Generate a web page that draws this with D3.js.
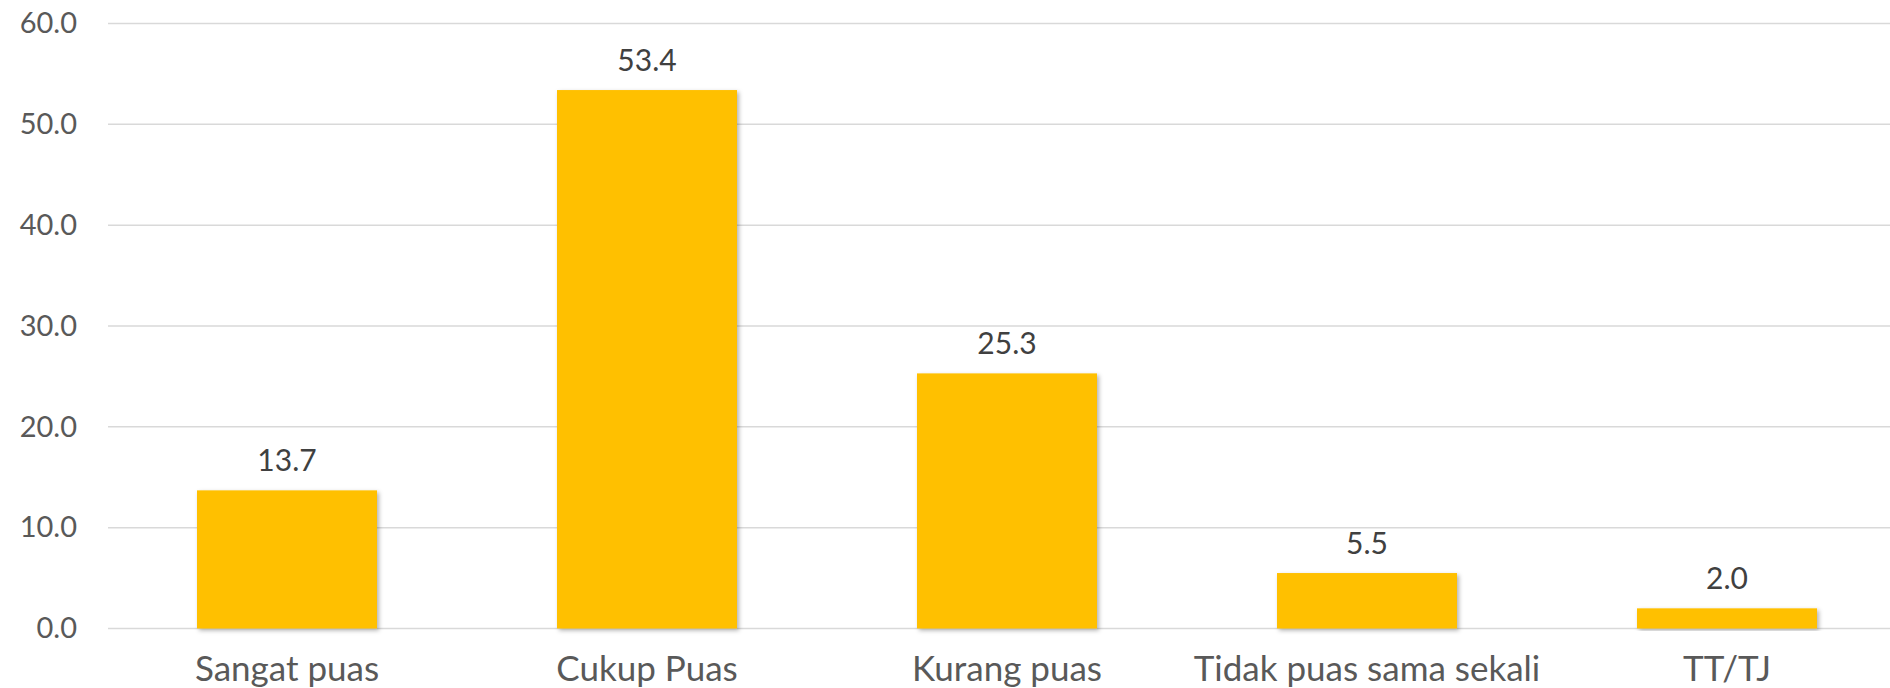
<!DOCTYPE html>
<html><head><meta charset="utf-8">
<script src="https://cdn.jsdelivr.net/npm/d3@7/dist/d3.min.js"></script>
<style>
html,body{margin:0;padding:0;background:#fff;}
svg{display:block;font-family:"Century Gothic","Lato","Open Sans",sans-serif;}
</style></head>
<body>
<svg id="chart" width="1890" height="688"></svg>
<script>
const categories = ["Sangat puas", "Cukup Puas", "Kurang puas", "Tidak puas sama sekali", "TT/TJ"];
const values = [13.7, 53.4, 25.3, 5.5, 2.0];
const yTicks = [0, 10, 20, 30, 40, 50, 60];

const svg = d3.select("#chart");
const W = 1890, H = 688;
const plotLeft = 107, plotRight = 1907, plotTop = 23.5, plotBottom = 628.5;

const x = d3.scaleBand().domain(categories).range([plotLeft, plotRight]).paddingInner(0.5).paddingOuter(0.25);
const y = d3.scaleLinear().domain([0, 60]).range([plotBottom, plotTop]);

const defs = svg.append("defs");
const f = defs.append("filter").attr("id", "sh").attr("x", "-10%").attr("y", "-10%").attr("width", "120%").attr("height", "120%");
f.append("feDropShadow").attr("dx", 2).attr("dy", 2).attr("stdDeviation", 2).attr("flood-color", "#000").attr("flood-opacity", 0.3);

// gridlines
svg.append("g").selectAll("line").data(yTicks).join("line")
  .attr("x1", 108).attr("x2", W)
  .attr("y1", d => y(d)).attr("y2", d => y(d))
  .attr("stroke", "#d9d9d9").attr("stroke-width", 1.5);

// y axis labels
const yAxis = d3.axisLeft(y).tickValues(yTicks).tickFormat(d3.format(".1f")).tickSize(0).tickPadding(0);
const ya = svg.append("g").attr("transform", "translate(77,0)").call(yAxis).attr("font-family", null).attr("font-size", null);
ya.select(".domain").remove();
ya.selectAll("text").attr("font-size", 29).attr("fill", "#595959");

// bars
svg.append("g").selectAll("rect").data(values).join("rect")
  .attr("x", (d, i) => x(categories[i]))
  .attr("width", x.bandwidth())
  .attr("y", d => y(d))
  .attr("height", d => y(0) - y(d))
  .attr("fill", "#FFC000")
  .attr("filter", "url(#sh)");

// value labels
svg.append("g").selectAll("text").data(values).join("text")
  .attr("x", (d, i) => x(categories[i]) + x.bandwidth() / 2)
  .attr("y", d => y(d) - 19)
  .attr("text-anchor", "middle")
  .attr("font-size", 30)
  .attr("fill", "#404040")
  .text(d => d3.format(".1f")(d));

// x axis labels
const xAxis = d3.axisBottom(x).tickSize(0).tickPadding(0);
const xa = svg.append("g").call(xAxis).attr("font-family", null).attr("font-size", null);
xa.select(".domain").remove();
xa.selectAll("text").attr("font-size", 35).attr("fill", "#595959")
  .attr("dy", null).attr("y", 681);
</script>
</body></html>
